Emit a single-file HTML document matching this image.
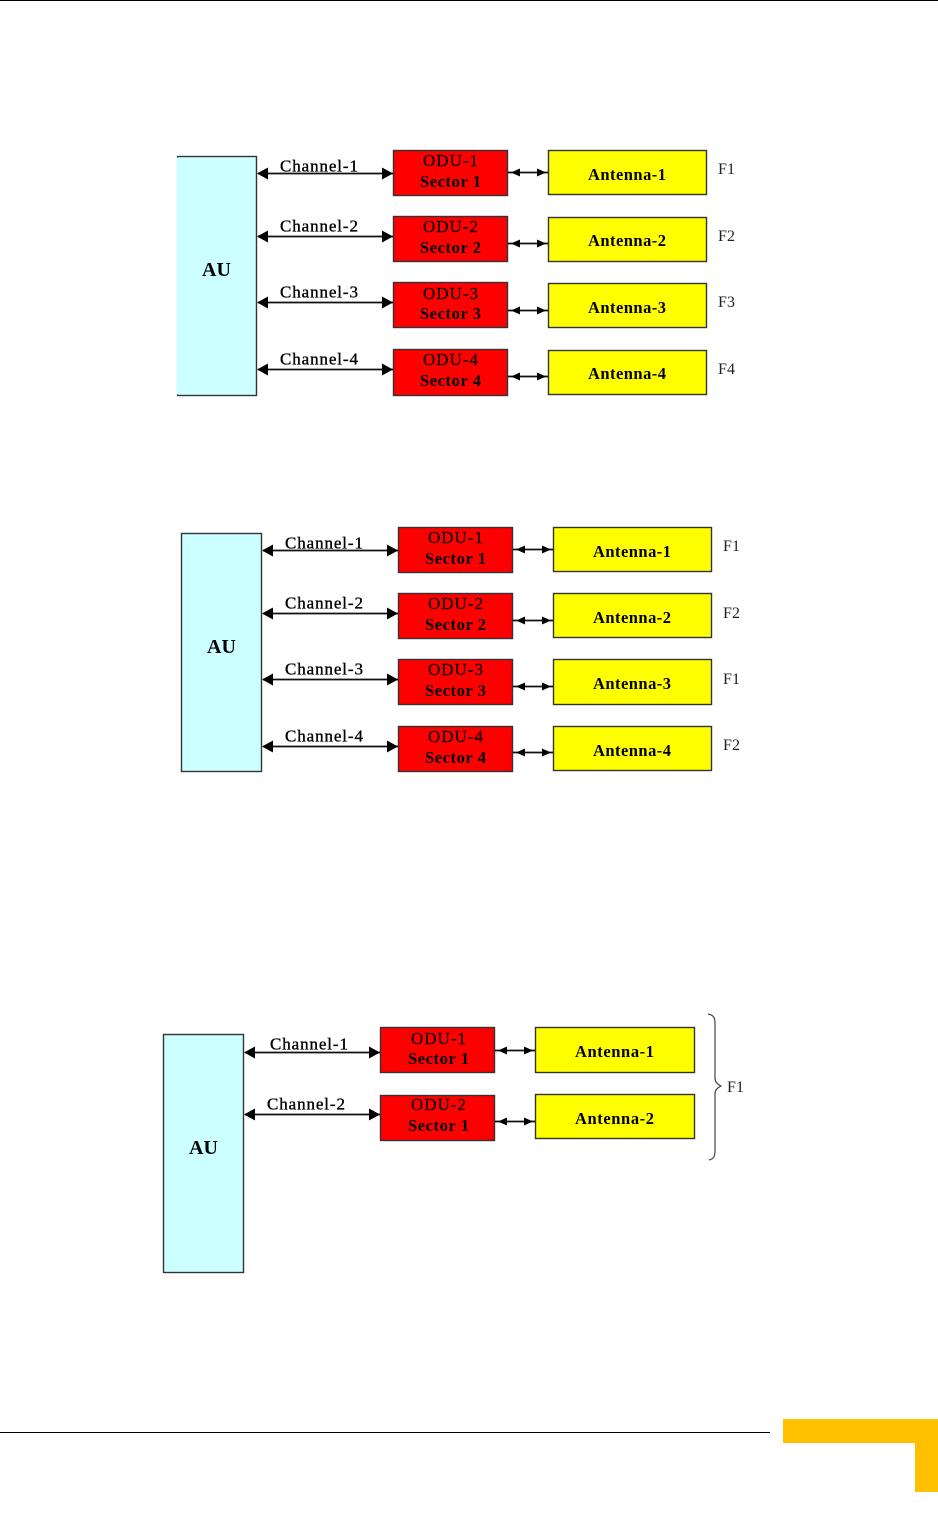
<!DOCTYPE html>
<html><head><meta charset="utf-8"><style>
html,body{margin:0;padding:0;background:#fff}
svg{display:block}
text{font-family:"Liberation Serif",serif;fill:#000}
.c{font-size:17px;stroke:#000;stroke-width:.35}
.o{font-size:17px;fill:#200;stroke:#200;stroke-width:.4}
.s{font-size:16.500px;font-weight:bold}
.a{font-size:16.500px;font-weight:bold}
.f{font-size:16px;fill:#222}
.au{font-size:20px;font-weight:bold}
.b{stroke:#333;stroke-width:1.4}
.l{stroke:#111;stroke-width:1.7;fill:none}
</style></head><body>
<svg width="938" height="1524" viewBox="0 0 938 1524" xmlns="http://www.w3.org/2000/svg">
<rect x="0" y="0" width="938" height="1" fill="#000"/>
<!-- D1 -->
<rect class="b" x="177.500" y="156.500" width="79" height="239" fill="#ccffff"/>
<rect x="176.500" y="157.500" width="2" height="237" fill="#ccffff"/>
<text class="au" x="202" y="276" textLength="29">AU</text>
<g fill="#ff0000" class="b"><rect x="393.500" y="150.500" width="114" height="45"/><rect x="393.500" y="216.500" width="114" height="45"/><rect x="393.500" y="282.500" width="114" height="45"/><rect x="393.500" y="349.500" width="114" height="46"/></g>
<g fill="#ffff00" class="b"><rect x="548.500" y="150.500" width="158" height="44"/><rect x="548.500" y="217.500" width="158" height="44"/><rect x="548.500" y="283.500" width="158" height="44"/><rect x="548.500" y="350.500" width="158" height="44"/></g>
<path class="l" d="M258 173.500H393M258 236.500H393M258 302.500H393M258 369.500H393M508 172.500H548M508 243.500H548M508 310.500H548M508 376.500H548"/>
<path d="M257 173.500l11-6v12zM393 173.500l-11-6v12zM257 236.500l11-6v12zM393 236.500l-11-6v12zM257 302.500l11-6v12zM393 302.500l-11-6v12zM257 369.500l11-6v12zM393 369.500l-11-6v12zM511 172.500l9-4v8zM546 172.500l-9-4v8zM511 243.500l9-4v8zM546 243.500l-9-4v8zM511 310.500l9-4v8zM546 310.500l-9-4v8zM511 376.500l9-4v8zM546 376.500l-9-4v8z" fill="#000"/>
<text class="c" x="280" y="171.500" textLength="78">Channel-1</text>
<text class="c" x="280" y="231.500" textLength="78">Channel-2</text>
<text class="c" x="280" y="297.500" textLength="78">Channel-3</text>
<text class="c" x="280" y="364.500" textLength="78">Channel-4</text>
<text class="o" x="423" y="166" textLength="55">ODU-1</text><text class="s" x="420" y="187" textLength="61">Sector 1</text>
<text class="o" x="423" y="232" textLength="55">ODU-2</text><text class="s" x="420" y="253" textLength="61">Sector 2</text>
<text class="o" x="423" y="299" textLength="55">ODU-3</text><text class="s" x="420" y="319" textLength="61">Sector 3</text>
<text class="o" x="423" y="365" textLength="55">ODU-4</text><text class="s" x="420" y="386" textLength="61">Sector 4</text>
<text class="a" x="588" y="180" textLength="78">Antenna-1</text>
<text class="a" x="588" y="246" textLength="78">Antenna-2</text>
<text class="a" x="588" y="313" textLength="78">Antenna-3</text>
<text class="a" x="588" y="379" textLength="78">Antenna-4</text>
<text class="f" x="718" y="174" textLength="17">F1</text>
<text class="f" x="718" y="241" textLength="17">F2</text>
<text class="f" x="718" y="307" textLength="17">F3</text>
<text class="f" x="718" y="374" textLength="17">F4</text>
<!-- D2 -->
<rect class="b" x="181.500" y="533.500" width="80" height="238" fill="#ccffff"/>
<text class="au" x="207" y="653" textLength="29">AU</text>
<g fill="#ff0000" class="b"><rect x="398.500" y="527.500" width="114" height="45"/><rect x="398.500" y="593.500" width="114" height="45"/><rect x="398.500" y="659.500" width="114" height="45"/><rect x="398.500" y="726.500" width="114" height="45"/></g>
<g fill="#ffff00" class="b"><rect x="553.500" y="527.500" width="158" height="44"/><rect x="553.500" y="593.500" width="158" height="44"/><rect x="553.500" y="659.500" width="158" height="45"/><rect x="553.500" y="726.500" width="158" height="44"/></g>
<path class="l" d="M263 550.500H398M263 613.500H398M263 679.500H398M263 746.500H398M513 549.500H553M513 620.500H553M513 686.500H553M513 752.500H553"/>
<path d="M262 550.500l11-6v12zM398 550.500l-11-6v12zM262 613.500l11-6v12zM398 613.500l-11-6v12zM262 679.500l11-6v12zM398 679.500l-11-6v12zM262 746.500l11-6v12zM398 746.500l-11-6v12zM516 549.500l9-4v8zM551 549.500l-9-4v8zM516 620.500l9-4v8zM551 620.500l-9-4v8zM516 686.500l9-4v8zM551 686.500l-9-4v8zM516 752.500l9-4v8zM551 752.500l-9-4v8z" fill="#000"/>
<text class="c" x="285" y="548.500" textLength="78">Channel-1</text>
<text class="c" x="285" y="608.500" textLength="78">Channel-2</text>
<text class="c" x="285" y="674.500" textLength="78">Channel-3</text>
<text class="c" x="285" y="741.500" textLength="78">Channel-4</text>
<text class="o" x="428" y="543" textLength="55">ODU-1</text><text class="s" x="425" y="564" textLength="61">Sector 1</text>
<text class="o" x="428" y="609" textLength="55">ODU-2</text><text class="s" x="425" y="630" textLength="61">Sector 2</text>
<text class="o" x="428" y="675" textLength="55">ODU-3</text><text class="s" x="425" y="696" textLength="61">Sector 3</text>
<text class="o" x="428" y="742" textLength="55">ODU-4</text><text class="s" x="425" y="763" textLength="61">Sector 4</text>
<text class="a" x="593" y="557" textLength="78">Antenna-1</text>
<text class="a" x="593" y="623" textLength="78">Antenna-2</text>
<text class="a" x="593" y="689" textLength="78">Antenna-3</text>
<text class="a" x="593" y="756" textLength="78">Antenna-4</text>
<text class="f" x="723" y="551" textLength="17">F1</text>
<text class="f" x="723" y="618" textLength="17">F2</text>
<text class="f" x="723" y="684" textLength="17">F1</text>
<text class="f" x="723" y="750" textLength="17">F2</text>
<!-- D3 -->
<rect class="b" x="163.500" y="1034.500" width="80" height="238" fill="#ccffff"/>
<text class="au" x="189" y="1154" textLength="29">AU</text>
<g fill="#ff0000" class="b"><rect x="380.500" y="1027.500" width="114" height="45"/><rect x="380.500" y="1095.500" width="114" height="45"/></g>
<g fill="#ffff00" class="b"><rect x="535.500" y="1027.500" width="159" height="45"/><rect x="535.500" y="1094.500" width="159" height="44"/></g>
<path class="l" d="M245 1052.500H380M245 1114.500H380M495 1050.500H535M495 1121.500H535"/>
<path d="M244 1052.500l11-6v12zM380 1052.500l-11-6v12zM244 1114.500l11-6v12zM380 1114.500l-11-6v12zM498 1050.500l9-4v8zM533 1050.500l-9-4v8zM498 1121.500l9-4v8zM533 1121.500l-9-4v8z" fill="#000"/>
<text class="c" x="270" y="1049.500" textLength="78">Channel-1</text>
<text class="c" x="267" y="1109.500" textLength="78">Channel-2</text>
<text class="o" x="411" y="1044" textLength="55">ODU-1</text><text class="s" x="408" y="1064" textLength="61">Sector 1</text>
<text class="o" x="411" y="1110" textLength="55">ODU-2</text><text class="s" x="408" y="1131" textLength="61">Sector 1</text>
<text class="a" x="575" y="1057" textLength="79">Antenna-1</text>
<text class="a" x="575" y="1124" textLength="79">Antenna-2</text>
<text class="f" x="727" y="1092" textLength="17">F1</text>
<path d="M708 1014C714 1015 715 1018 715 1024V1078C715 1082 717 1084 721 1086C717 1088 715 1090 715 1094V1150C715 1156 714 1159 709 1160" fill="none" stroke="#444" stroke-width="1.200"/>
<!-- footer -->
<rect x="0" y="1432" width="770" height="1" fill="#000"/>
<path d="M783 1419H938V1492H915V1443H783Z" fill="#ffc000"/>
</svg>
</body></html>
